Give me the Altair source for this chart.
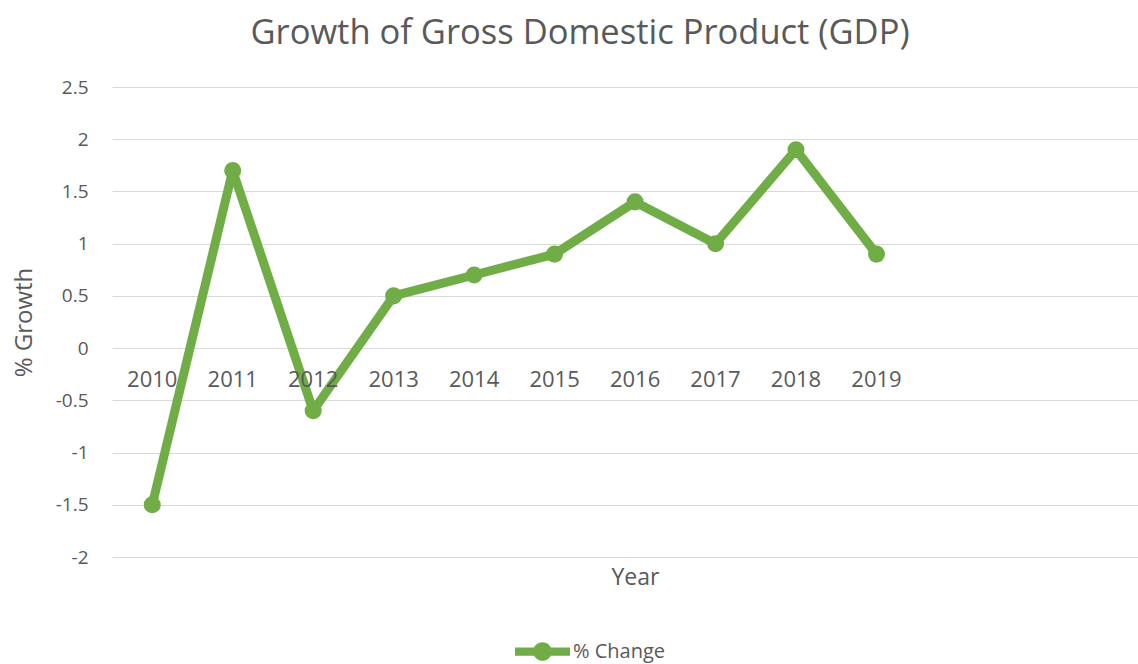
import altair as alt
import pandas as pd

years = [2010, 2011, 2012, 2013, 2014, 2015, 2016, 2017, 2018, 2019]
growth = [-1.5, 1.7, -0.6, 0.5, 0.7, 0.9, 1.4, 1.0, 1.9, 0.9]
series_name = "% Change"
y_ticks = [-2, -1.5, -1, -0.5, 0, 0.5, 1, 1.5, 2, 2.5]

df = pd.DataFrame({"year": years, "growth": growth, "series": [series_name] * len(years)})
df["label"] = df["year"].astype(str)
df["zero"] = 0

GREEN = "#70AD47"
GRAY = "#595959"
FONT = "Open Sans"

x_scale = alt.Scale(domain=[2009.5, 2022.25], nice=False, zero=False)
y_scale = alt.Scale(domain=[-2, 2.5], nice=False, zero=False)

x_enc = alt.X(
    "year:Q",
    scale=x_scale,
    axis=alt.Axis(
        title="Year", labels=False, ticks=False, domain=False, grid=False,
        titleFont=FONT, titleFontSize=23, titleFontWeight="normal", titleColor=GRAY,
        titleX=523, titleY=9,
    ),
)
y_enc = alt.Y(
    "growth:Q",
    scale=y_scale,
    axis=alt.Axis(
        title="% Growth", values=y_ticks, ticks=False, domain=False,
        grid=True, gridColor="#D9D9D9", gridWidth=1,
        labelExpr="'' + datum.value",
        labelFont=FONT, labelFontSize=19, labelColor=GRAY, labelPadding=24,
        titleFont=FONT, titleFontSize=24, titleFontWeight="normal", titleColor=GRAY,
        titleX=-76, titleY=235,
    ),
)

base = alt.Chart(df)

line = base.mark_line(color=GREEN, strokeWidth=9, strokeJoin="round").encode(x=x_enc, y=y_enc)

legend_path = ("M-1,-0.15 L1,-0.15 L1,0.15 L-1,0.15 Z "
               "M0.34,0 A0.34,0.34 0 1,1 -0.34,0 A0.34,0.34 0 1,1 0.34,0 Z")

points = base.mark_circle(size=290, opacity=1).encode(
    x="year:Q",
    y="growth:Q",
    color=alt.Color(
        "series:N",
        scale=alt.Scale(range=[GREEN]),
        legend=alt.Legend(
            title=None, orient="none", legendX=403, legendY=537,
            symbolType=legend_path, symbolSize=3025, symbolStrokeWidth=0,
            symbolFillColor=GREEN, symbolOpacity=1,
            labelFont=FONT, labelFontSize=20, labelColor=GRAY, labelOffset=3,
        ),
    ),
)

labels = base.mark_text(font=FONT, fontSize=22, color=GRAY, dy=32, baseline="middle").encode(
    x="year:Q", y="zero:Q", text="label:N"
)

chart = (
    alt.layer(line, points, labels)
    .properties(
        width=1026,
        height=470,
        background="white",
        autosize=alt.AutoSizeParams(type="none"),
        padding={"left": 112, "top": 87, "right": 0, "bottom": 107},
        title=alt.TitleParams(
            "Growth of Gross Domestic Product (GDP)",
            font=FONT, fontSize=34.5, fontWeight="normal", color=GRAY,
            anchor="middle", frame="group", dx=-45, baseline="alphabetic", offset=0,
        ),
    )
    .configure_view(strokeWidth=0, stroke="transparent")
)

chart.save("out.html", embed_options={"renderer": "svg", "actions": False})
